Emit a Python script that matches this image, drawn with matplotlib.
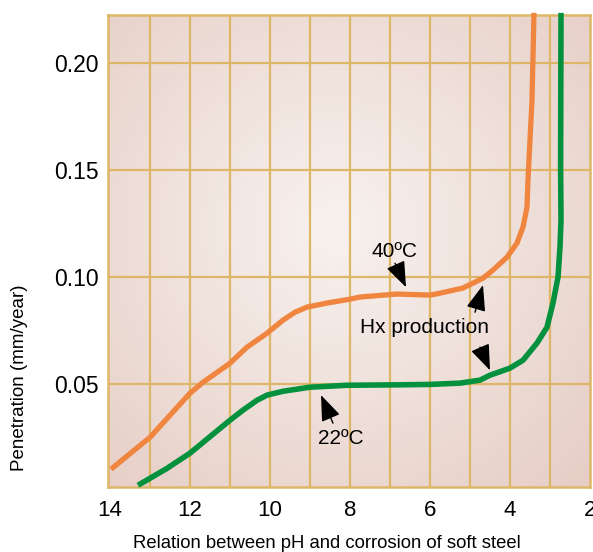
import numpy as np
import matplotlib
matplotlib.use("Agg")
import matplotlib.pyplot as plt
from matplotlib.colors import to_rgb

plt.rcParams['font.family'] = ['Liberation Sans', 'DejaVu Sans']

# pH (x) and penetration mm/year (y)
ph_40 = [13.975, 13.0, 12.0, 11.675, 11.0, 10.575, 10.075, 9.675, 9.375, 9.075, 8.575, 8.0, 7.75,
         6.825, 6.0, 5.75, 5.175, 4.675, 4.425, 4.075, 3.825, 3.675, 3.575, 3.55, 3.525, 3.45, 3.4]
pen_40 = [0.0103, 0.0252, 0.0458, 0.0509, 0.0598, 0.0673, 0.0738, 0.0799, 0.0836, 0.0860, 0.0879, 0.0897, 0.0907,
          0.0921, 0.0916, 0.0925, 0.0949, 0.0995, 0.1033, 0.1093, 0.1159, 0.1234, 0.1327, 0.1453, 0.1547, 0.1827, 0.2234]

ph_22 = [13.3, 12.575, 12.0, 11.0, 10.675, 10.325, 10.075, 9.675, 9.0, 8.075, 6.825, 6.0, 5.25, 4.75, 4.5,
         4.0, 3.675, 3.325, 3.075, 2.925, 2.8, 2.75, 2.725, 2.735, 2.725]
pen_22 = [0.0028, 0.0107, 0.0178, 0.0332, 0.0379, 0.0425, 0.0449, 0.0467, 0.0486, 0.0495, 0.0497, 0.0499, 0.0505, 0.0519, 0.0542,
          0.0575, 0.0612, 0.0692, 0.0766, 0.0879, 0.1, 0.114, 0.1266, 0.151, 0.2234]

x_ticks = [14, 12, 10, 8, 6, 4, 2]
x_ticklabels = ['14', '12', '10', '8', '6', '4', '2']
y_ticks = [0.05, 0.10, 0.15, 0.20]
y_ticklabels = ['0.05', '0.10', '0.15', '0.20']
x_grid = [13, 12, 11, 10, 9, 8, 7, 6, 5, 4, 3]
y_grid = [0.05, 0.10, 0.15, 0.20]

x_label = 'Relation between pH and corrosion of soft steel'
y_label = 'Penetration (mm/year)'

XMIN, XMAX = 14.05, 2.0
YMIN, YMAX = 0.002, 0.2224

fig = plt.figure(figsize=(5.93, 5.52), dpi=100)
ax = fig.add_axes([108/593, 1-487/552, 482/593, 472/552])

# radial gradient background
light = np.array(to_rgb('#F8F2EF'))
dark = np.array(to_rgb('#E6CEC6'))
ny, nx = 200, 200
yy, xx = np.mgrid[0:1:ny*1j, 0:1:nx*1j]
r = np.sqrt(((xx-0.47)/0.75)**2 + ((yy-0.55)/0.75)**2)
t = np.clip(r, 0, 1)[..., None]
img = light*(1-t) + dark*t
ax.imshow(img, extent=[XMIN, XMAX, YMIN, YMAX], origin='lower', aspect='auto', zorder=0, interpolation='bilinear')

gcol = '#DDB767'
for xv in x_grid:
    ax.axvline(xv, color=gcol, lw=1.6, zorder=1)
for yv in y_grid:
    ax.axhline(yv, color=gcol, lw=1.6, zorder=1)
for s in ax.spines.values():
    s.set_color(gcol)
    s.set_linewidth(1.8)

ax.plot(ph_40, pen_40, color='#F0853F', lw=3.8, solid_joinstyle='round', solid_capstyle='butt', zorder=3, clip_on=False)
ax.plot(ph_22, pen_22, color='#03913E', lw=4.0, solid_joinstyle='round', solid_capstyle='butt', zorder=3, clip_on=False)

ax.set_xlim(XMIN, XMAX)
ax.set_ylim(YMIN, YMAX)
ax.set_xticks(x_ticks)
ax.set_xticklabels(x_ticklabels)
ax.set_yticks(y_ticks)
ax.set_yticklabels(y_ticklabels)
ax.tick_params(axis='both', length=0)
ax.tick_params(axis='x', labelsize=16, pad=9)
ax.tick_params(axis='y', labelsize=16.5, pad=7)

aprops = dict(arrowstyle='-|>,head_length=1.0,head_width=0.38', color='black', lw=1.0, mutation_scale=16, shrinkA=0, shrinkB=0)
ax.text(6.875, 0.1121, '40ºC', fontsize=15, ha='center', va='center', zorder=4)
ax.annotate('', xy=(6.6, 0.0953), xytext=(6.875, 0.1065), arrowprops=aprops, zorder=4)
ax.text(6.125, 0.0766, 'Hx production', fontsize=15, ha='center', va='center', zorder=4)
ax.annotate('', xy=(4.675, 0.0963), xytext=(4.875, 0.0836), arrowprops=aprops, zorder=4)
ax.annotate('', xy=(4.5, 0.0565), xytext=(4.75, 0.0673), arrowprops=aprops, zorder=4)
ax.text(8.225, 0.0248, '22ºC', fontsize=15, ha='center', va='center', zorder=4)
ax.annotate('', xy=(8.725, 0.0449), xytext=(8.425, 0.0318), arrowprops=aprops, zorder=4)

fig.text(327/593, 1-543/552, x_label, fontsize=13.3, ha='center', va='center')
fig.text(20/593, 1-378/552, y_label, fontsize=13.5, ha='center', va='center', rotation=90)

fig.savefig('out.png', dpi=100)
